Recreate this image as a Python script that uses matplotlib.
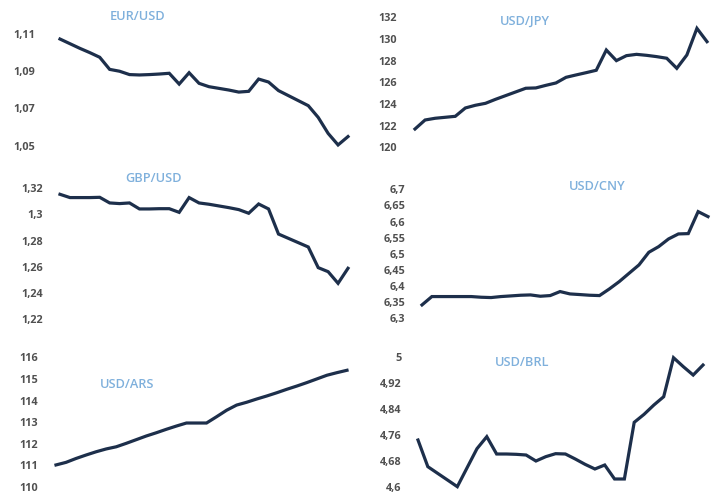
import matplotlib
matplotlib.use("Agg")
import matplotlib.pyplot as plt

W, H = 720, 493

days = list(range(30))

eur_usd = [1.1073, 1.1048, 1.1023, 1.1000, 1.0975, 1.0910, 1.0900, 1.0882, 1.0880, 1.0882,
           1.0885, 1.0889, 1.0831, 1.0892, 1.0835, 1.0817, 1.0808, 1.0799, 1.0788, 1.0792,
           1.0858, 1.0842, 1.0796, 1.0769, 1.0742, 1.0715, 1.0652, 1.0566, 1.0504, 1.0549]
usd_jpy = [121.69, 122.52, 122.68, 122.77, 122.86, 123.63, 123.88, 124.06, 124.43, 124.77,
           125.11, 125.45, 125.48, 125.72, 125.94, 126.46, 126.68, 126.89, 127.11, 128.98,
           128.00, 128.46, 128.58, 128.49, 128.37, 128.22, 127.29, 128.52, 130.98, 129.75]
gbp_usd = [1.3154, 1.3129, 1.3129, 1.3129, 1.3131, 1.3088, 1.3083, 1.3088, 1.3042, 1.3042,
           1.3044, 1.3044, 1.3016, 1.3129, 1.3088, 1.3078, 1.3065, 1.3052, 1.3037, 1.3009,
           1.3080, 1.3042, 1.2850, 1.2817, 1.2784, 1.2751, 1.2593, 1.2562, 1.2473, 1.2588]
usd_cny = [6.3415, 6.3674, 6.3674, 6.3674, 6.3674, 6.3674, 6.3653, 6.3643, 6.3674, 6.3694,
           6.3715, 6.3725, 6.3684, 6.3705, 6.3829, 6.3756, 6.3736, 6.3715, 6.3705, 6.3911,
           6.4138, 6.4397, 6.4655, 6.5047, 6.5223, 6.5461, 6.5616, 6.5626, 6.6308, 6.6153]
usd_ars = [111.02, 111.14, 111.32, 111.48, 111.63, 111.76, 111.86, 112.02, 112.19, 112.36,
           112.51, 112.67, 112.82, 112.96, 112.96, 112.96, 113.25, 113.55, 113.79, 113.92,
           114.07, 114.21, 114.36, 114.52, 114.67, 114.83, 115.00, 115.17, 115.29, 115.40]
usd_brl = [4.7442, 4.6624, 4.6419, 4.6215, 4.6010, 4.6594, 4.7176, 4.7545, 4.7013, 4.7013,
           4.7003, 4.6982, 4.6798, 4.6931, 4.7023, 4.7013, 4.6860, 4.6696, 4.6553, 4.6675,
           4.6246, 4.6246, 4.7985, 4.8230, 4.8517, 4.8772, 4.9969, 4.9693, 4.9437, 4.9744]

eur_ticks = [1.05, 1.07, 1.09, 1.11]
eur_labels = ["1,05", "1,07", "1,09", "1,11"]
jpy_ticks = [120, 122, 124, 126, 128, 130, 132]
jpy_labels = ["120", "122", "124", "126", "128", "130", "132"]
gbp_ticks = [1.22, 1.24, 1.26, 1.28, 1.30, 1.32]
gbp_labels = ["1,22", "1,24", "1,26", "1,28", "1,3", "1,32"]
cny_ticks = [6.30, 6.35, 6.40, 6.45, 6.50, 6.55, 6.60, 6.65, 6.70]
cny_labels = ["6,3", "6,35", "6,4", "6,45", "6,5", "6,55", "6,6", "6,65", "6,7"]
ars_ticks = [110, 111, 112, 113, 114, 115, 116]
ars_labels = ["110", "111", "112", "113", "114", "115", "116"]
brl_ticks = [4.60, 4.68, 4.76, 4.84, 4.92, 5.00]
brl_labels = ["4,6", "4,68", "4,76", "4,84", "4,92", "5"]

line_color = "#1d2f4b"
title_color = "#7fb0dc"
tick_color = "#505050"

# (title, values, ticks, labels, ylim, px box [left, right, top, bottom], title xy px, pad)
panels = [
    ("EUR/USD", eur_usd, eur_ticks, eur_labels, (1.04, 1.12), (60, 348, 15.4, 164.3), (138, 17), 18),
    ("USD/JPY", usd_jpy, jpy_ticks, jpy_labels, (120, 132), (415, 707, 17.3, 147.3), (525, 21), 13),
    ("GBP/USD", gbp_usd, gbp_ticks, gbp_labels, (1.22, 1.32), (60, 348, 188.3, 319.0), (153, 178), 12),
    ("USD/CNY", usd_cny, cny_ticks, cny_labels, (6.30, 6.70), (422, 708, 189.3, 318.3), (597, 186), 12),
    ("USD/ARS", usd_ars, ars_ticks, ars_labels, (110, 116), (56, 347, 357.3, 487.0), (127, 384), 13),
    ("USD/BRL", usd_brl, brl_ticks, brl_labels, (4.60, 5.00), (418, 703, 356.7, 487.0), (522, 362), 12),
]

fig = plt.figure(figsize=(W / 100, H / 100), dpi=100)

for title, vals, ticks, labels, ylim, box, tpos, pad in panels:
    left, right, top, bottom = box
    ax = fig.add_axes([left / W, 1 - bottom / H, (right - left) / W, (bottom - top) / H])
    ax.plot(days, vals, color=line_color, lw=2.3, clip_on=False, solid_joinstyle="miter")
    ax.set_xlim(0, 29)
    ax.set_ylim(*ylim)
    ax.set_yticks(ticks)
    ax.set_yticklabels(labels, fontfamily="Open Sans", fontweight="bold", fontsize=7.8, color=tick_color)
    ax.tick_params(axis="y", length=0, pad=pad)
    ax.set_xticks([])
    for s in ax.spines.values():
        s.set_visible(False)
    ax.patch.set_alpha(0)
    fig.text(tpos[0] / W, 1 - tpos[1] / H, title, ha="center", va="center",
             fontfamily="Open Sans", fontweight="semibold", fontsize=9.2, color=title_color)

fig.savefig("out.png", dpi=100, facecolor="white")
